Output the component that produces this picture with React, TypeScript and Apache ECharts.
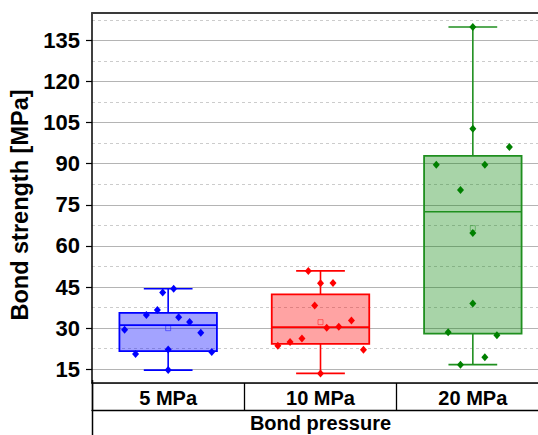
import React, { useEffect, useRef } from 'react';
import * as echarts from 'echarts';

const categories = ['5 MPa', '10 MPa', '20 MPa'];

// individual measurements per group
const values5 = [44.4, 43.0, 36.6, 34.8, 34.0, 32.3, 29.4, 28.3, 22.2, 20.6, 21.3, 14.7];
const jitter5 = [0.036, -0.036, -0.071, -0.143, 0.069, 0.141, -0.286, 0.214, 0, -0.214, 0.286, 0];
const values10 = [50.9, 46.4, 46.5, 38.3, 32.8, 30.2, 30.5, 26.2, 25.0, 23.6, 22.1, 13.5];
const jitter10 = [-0.08, 0, 0.082, -0.038, 0.203, 0.041, 0.12, -0.122, -0.2, -0.28, 0.282, 0];
const values20 = [139.9, 102.8, 96.1, 89.6, 89.6, 80.4, 64.7, 39.0, 28.5, 27.4, 19.4, 16.7];
const jitter20 = [0, 0, 0.24, -0.24, 0.079, -0.081, 0, 0, -0.162, 0.158, 0.079, -0.081];

// box statistics: [min, Q1, median, Q3, max]
const box5 = [14.7, 21.6, 31.1, 35.6, 44.4];
const box10 = [13.5, 24.3, 30.4, 42.3, 50.9];
const box20 = [16.7, 28.0, 72.5, 92.9, 139.9];
const means = [30.0, 32.2, 66.5];

const lineColors = ['#0000ff', '#ff0000', '#1f8f1f'];
const fillColors = ['rgba(0,0,255,0.36)', 'rgba(255,0,0,0.36)', 'rgba(0,128,0,0.34)'];
const pointColors = ['#0000ff', '#ff0000', '#008000'];

const FONT = '"Liberation Sans", Arial, sans-serif';

export default function App() {
  const ref = useRef<HTMLDivElement>(null);
  useEffect(() => {
    if (!ref.current) return;
    const chart = echarts.init(ref.current, null, { renderer: 'svg' });
    const boxes = [box5, box10, box20];
    const groups = [
      { v: values5, j: jitter5 },
      { v: values10, j: jitter10 },
      { v: values20, j: jitter20 },
    ];
    const boxData = boxes.map((b, i) => [i, ...b, means[i]]);

    const option: any = {
      animation: false,
      grid: { left: 92, right: -11, top: 13, bottom: 52, containLabel: false, outerBoundsMode: 'none' },
      xAxis: [
        {
          type: 'category',
          data: categories,
          position: 'bottom',
          boundaryGap: true,
          z: 1.5,
          axisLine: { show: true, onZero: false, lineStyle: { color: '#000', width: 1.5 } },
          axisTick: { show: true, inside: false, length: 27, interval: 0, lineStyle: { color: '#000', width: 1.3 } },
          axisLabel: { show: true, interval: 0, margin: 5, color: '#000', fontFamily: FONT, fontWeight: 'bold', fontSize: 20 },
          name: 'Bond pressure',
          nameLocation: 'middle',
          nameGap: 30,
          nameTextStyle: { color: '#000', fontFamily: FONT, fontWeight: 'bold', fontSize: 20 },
          splitLine: { show: false },
        },
        {
          type: 'category',
          data: categories,
          position: 'bottom',
          offset: 27,
          z: 1.5,
          axisLine: { show: true, onZero: false, lineStyle: { color: '#000', width: 1.3 } },
          axisTick: { show: false },
          axisLabel: { show: false },
          splitLine: { show: false },
        },
        {
          type: 'category',
          data: categories,
          position: 'top',
          z: 1.5,
          axisLine: { show: true, onZero: false, lineStyle: { color: '#3a3a3a', width: 2 } },
          axisTick: { show: false },
          axisLabel: { show: false },
          splitLine: { show: false },
        },
        {
          type: 'value',
          min: -0.5,
          max: 2.5,
          show: false,
        },
      ],
      yAxis: [
        {
          type: 'value',
          min: 10,
          max: 145,
          minInterval: 15,
          maxInterval: 15,
          z: 1,
          axisLine: { show: true, onZero: false, lineStyle: { color: '#000', width: 1.5 } },
          axisTick: { show: true, inside: false, length: 6, lineStyle: { color: '#000', width: 1.2 } },
          axisLabel: {
            show: true, margin: 12, color: '#000', fontFamily: FONT, fontWeight: 'bold', fontSize: 22,
            showMinLabel: false, showMaxLabel: false,
          },
          splitLine: { show: true, lineStyle: { color: '#b4b4b4', width: 1, type: 'solid' } },
          name: 'Bond strength [MPa]',
          nameLocation: 'middle',
          nameGap: 56,
          nameTextStyle: {
            color: '#000', fontFamily: FONT, fontWeight: 'bold', fontSize: 23.5,
            padding: [0, 14, 0, 0],
          },
        },
        {
          type: 'value',
          min: 10,
          max: 145,
          minInterval: 7.5,
          maxInterval: 7.5,
          z: 0,
          axisLine: { show: false, onZero: false },
          axisTick: { show: true, inside: false, length: 4.5, lineStyle: { color: '#000', width: 1.2 } },
          axisLabel: { show: false },
          splitLine: { show: true, lineStyle: { color: '#cccccc', width: 1, type: [3, 3] } },
        },
      ],
      graphic: [
        {
          type: 'line',
          shape: { x1: 92.5, y1: 380, x2: 92.5, y2: 435 },
          style: { stroke: '#000', lineWidth: 1.5 },
          z: 10,
        },
      ],
      series: [
        {
          type: 'custom',
          xAxisIndex: 0,
          yAxisIndex: 0,
          z: 2,
          data: boxData,
          encode: { x: 0, y: [1, 2, 3, 4, 5, 6] },
          renderItem: (params: any, api: any) => {
            const i = api.value(0);
            const c = lineColors[i];
            const bandW = api.size([1, 0])[0];
            const boxW = bandW * 0.64;
            const capW = boxW / 2;
            const pMin = api.coord([i, api.value(1)]);
            const pQ1 = api.coord([i, api.value(2)]);
            const pMed = api.coord([i, api.value(3)]);
            const pQ3 = api.coord([i, api.value(4)]);
            const pMax = api.coord([i, api.value(5)]);
            const pMean = api.coord([i, api.value(6)]);
            const cx = pMed[0];
            const ls = { stroke: c, lineWidth: 1.6 };
            return {
              type: 'group',
              children: [
                { type: 'line', shape: { x1: cx, y1: pQ3[1], x2: cx, y2: pMax[1] }, style: ls },
                { type: 'line', shape: { x1: cx, y1: pQ1[1], x2: cx, y2: pMin[1] }, style: ls },
                { type: 'line', shape: { x1: cx - capW / 2, y1: pMax[1], x2: cx + capW / 2, y2: pMax[1] }, style: ls },
                { type: 'line', shape: { x1: cx - capW / 2, y1: pMin[1], x2: cx + capW / 2, y2: pMin[1] }, style: ls },
                {
                  type: 'rect',
                  shape: { x: cx - boxW / 2, y: pQ3[1], width: boxW, height: pQ1[1] - pQ3[1] },
                  style: { fill: fillColors[i], stroke: c, lineWidth: 1.8 },
                },
                { type: 'line', shape: { x1: cx - boxW / 2, y1: pMed[1], x2: cx + boxW / 2, y2: pMed[1] }, style: ls },
                {
                  type: 'rect',
                  shape: { x: cx - 2.5, y: pMean[1] - 2.5, width: 5, height: 5 },
                  style: { fill: 'none', stroke: c, lineWidth: 1, opacity: 0.45 },
                },
              ],
            };
          },
        },
        ...groups.map((g, gi) => ({
          type: 'scatter',
          xAxisIndex: 3,
          yAxisIndex: 0,
          z: 5,
          symbol: 'diamond',
          symbolSize: [7, 8],
          itemStyle: { color: pointColors[gi], opacity: 1 },
          data: g.v.map((v, k) => [gi + g.j[k], v]),
        })),
      ],
    };
    chart.setOption(option);
    return () => chart.dispose();
  }, []);
  return (
    <div
      ref={ref}
      style={{ position: 'fixed', left: 0, top: 0, width: 538, height: 435, background: '#fff' }}
    />
  );
}
